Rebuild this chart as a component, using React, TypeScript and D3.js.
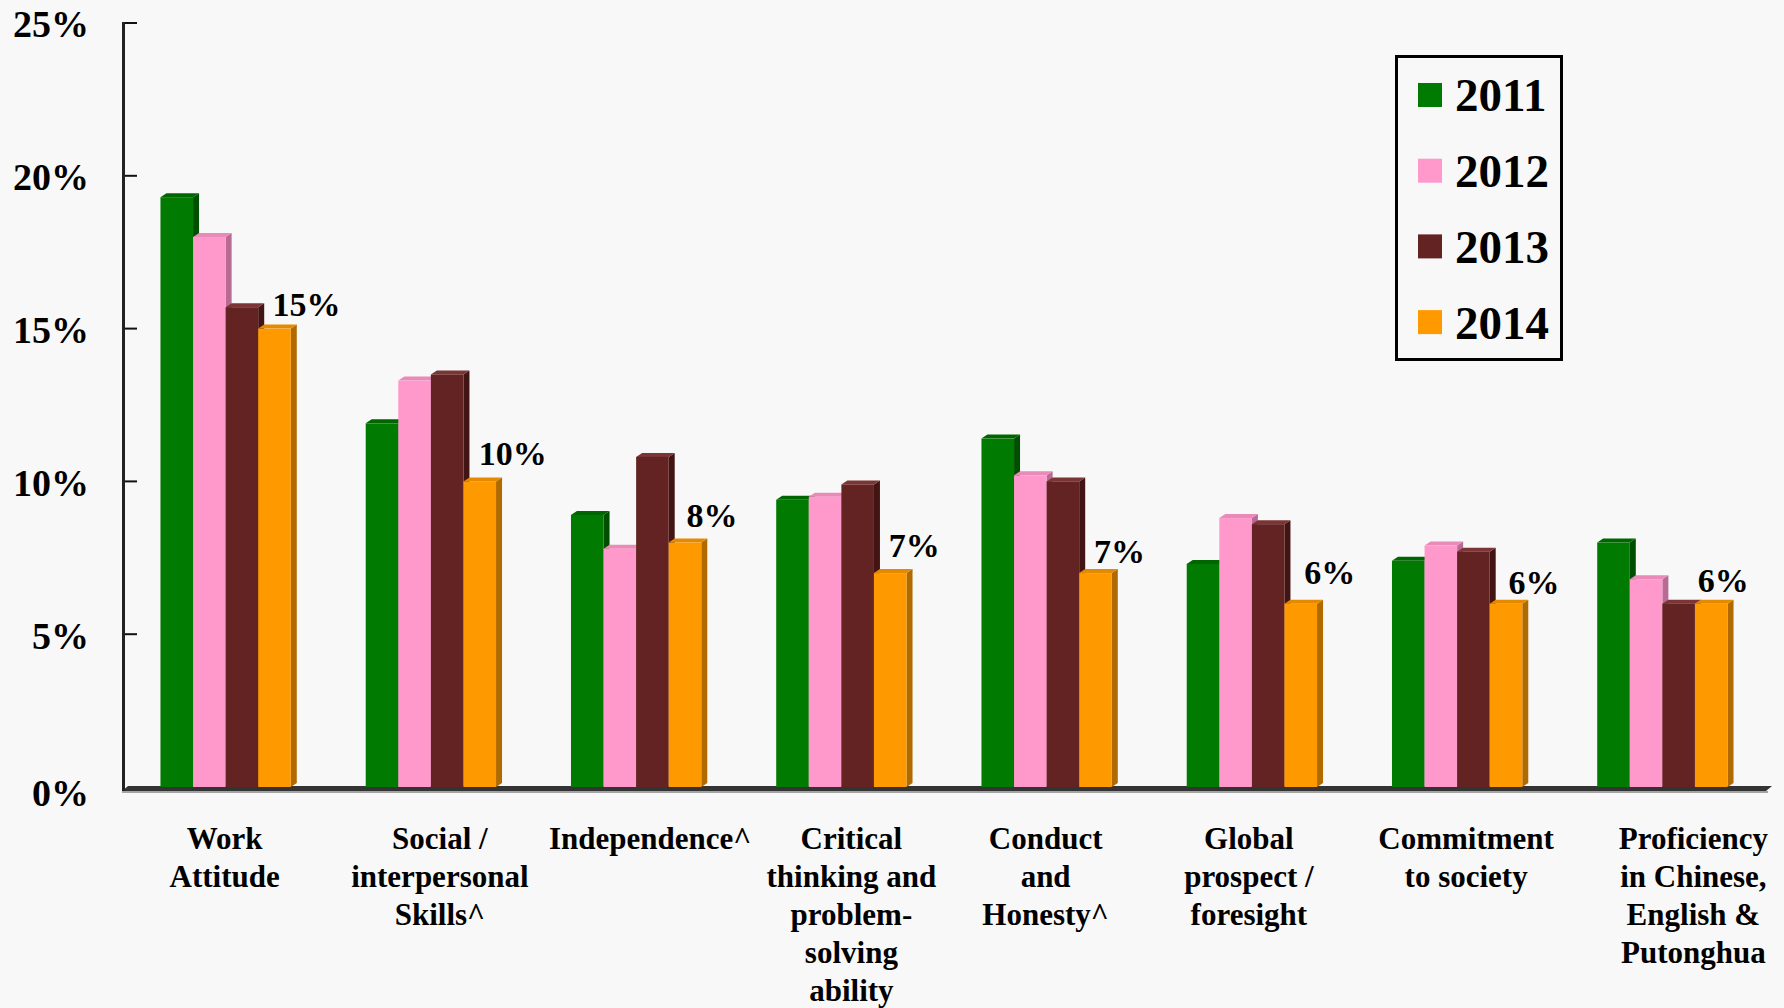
import React from "react";
import * as d3 from "d3";

const CATEGORIES = [
  "Work Attitude",
  "Social / interpersonal Skills^",
  "Independence^",
  "Critical thinking and problem-solving ability",
  "Conduct and Honesty^",
  "Global prospect / foresight",
  "Commitment to society",
  "Proficiency in Chinese, English & Putonghua",
];
const CATEGORY_LINES = [
  ["Work", "Attitude"],
  ["Social /", "interpersonal", "Skills^"],
  ["Independence^"],
  ["Critical", "thinking and", "problem-", "solving", "ability"],
  ["Conduct", "and", "Honesty^"],
  ["Global", "prospect /", "foresight"],
  ["Commitment", "to society"],
  ["Proficiency", "in Chinese,", "English &", "Putonghua"],
];
const YEARS = ["2011", "2012", "2013", "2014"];
const V2011 = [19.3, 11.9, 8.9, 9.4, 11.4, 7.3, 7.4, 8.0];
const V2012 = [18.0, 13.3, 7.8, 9.5, 10.2, 8.8, 7.9, 6.8];
const V2013 = [15.7, 13.5, 10.8, 9.9, 10.0, 8.6, 7.7, 6.0];
const V2014 = [15.0, 10.0, 8.0, 7.0, 7.0, 6.0, 6.0, 6.0];
const SERIES = [V2011, V2012, V2013, V2014];
const LABELS_2014 = ["15%", "10%", "8%", "7%", "7%", "6%", "6%", "6%"];
const Y_TICKS = [0, 5, 10, 15, 20, 25];

// layout nudges (pixels) for the value labels and category labels
const VALUE_LABEL_DX = [32, 33, 27, 24, 24, 29, 28, 12];
const VALUE_LABEL_DY = [13, 16, 16, 16, 10, 20, 10, 12];
const CAT_LABEL_DX = [-1, 9, 14, 10, -1, -3, 9, 31];

const FRONT = ["#007A00", "#FF99CC", "#632322", "#FF9900"];
const SIDE = ["#004F00", "#B86A92", "#431414", "#B06A00"];
const TOP = ["#006600", "#E98AB9", "#7A3534", "#E58A00"];

const W = 1784;
const H = 1008;
const FONT = "Liberation Serif";

export default function App() {
  const x0 = d3.scaleBand<string>().domain(CATEGORIES).range([123, 1765]);
  const x1 = d3
    .scaleBand<string>()
    .domain(YEARS)
    .range([0, x0.bandwidth()])
    .paddingInner(0)
    .paddingOuter(1.15);
  const y = d3.scaleLinear().domain([0, 25]).range([787, 23]);
  const bw = x1.bandwidth();
  const dx = 6;
  const dy = 4;

  return (
    <div>
      <style>{`body{margin:0;background:#F8F8F8} svg text{font-family:"Liberation Serif","Times New Roman",Times,serif;}`}</style>
      <svg width={W} height={H} style={{ display: "block", background: "#F8F8F8" }} fontFamily={FONT}>
        <rect x={0} y={0} width={W} height={H} fill="#F8F8F8" />
        {/* floor */}
        <polygon points={`122,791 1766,791 1772,786 128,786`} fill="#333" />
        <line x1={122} x2={1768} y1={792} y2={792} stroke="#888" strokeWidth={1.5} />
        {/* y axis */}
        <line x1={123.5} x2={123.5} y1={y(25) - 1} y2={791} stroke="#222" strokeWidth={3} />
        {Y_TICKS.map((t) => (
          <g key={t}>
            {t > 0 && (
              <line x1={125} x2={137} y1={y(t)} y2={y(t)} stroke="#111" strokeWidth={2} />
            )}
            <text
              x={89}
              y={y(t) + (t === 0 ? 6 : 1)}
              dy="0.35em"
              textAnchor="end"
              fontSize={38}
              fontWeight="bold"
              fill="#000"
            >
              {t}%
            </text>
          </g>
        ))}
        {/* bars */}
        {CATEGORIES.map((c, ci) => (
          <g key={c}>
            {YEARS.map((yr, si) => {
              const v = SERIES[si][ci];
              const bx = (x0(c) as number) + (x1(yr) as number);
              const ty = y(v);
              const by = y(0);
              return (
                <g key={yr}>
                  <polygon
                    points={`${bx + bw},${by} ${bx + bw},${ty} ${bx + bw + dx},${ty - dy} ${bx + bw + dx},${by - dy}`}
                    fill={SIDE[si]}
                  />
                  <polygon
                    points={`${bx},${ty} ${bx + dx},${ty - dy} ${bx + bw + dx},${ty - dy} ${bx + bw},${ty}`}
                    fill={TOP[si]}
                  />
                  <rect x={bx} y={ty} width={bw} height={by - ty} fill={FRONT[si]} />
                </g>
              );
            })}
            <text
              x={(x0(c) as number) + (x1("2014") as number) + bw / 2 + VALUE_LABEL_DX[ci]}
              y={y(V2014[ci]) - VALUE_LABEL_DY[ci]}
              textAnchor="middle"
              fontSize={34}
              fontWeight="bold"
              fill="#000"
            >
              {LABELS_2014[ci]}
            </text>
            <text
              x={(x0(c) as number) + x0.bandwidth() / 2 + CAT_LABEL_DX[ci]}
              y={849}
              textAnchor="middle"
              fontSize={31}
              fontWeight="bold"
              fill="#000"
            >
              {CATEGORY_LINES[ci].map((ln, li) => (
                <tspan
                  key={li}
                  x={(x0(c) as number) + x0.bandwidth() / 2 + CAT_LABEL_DX[ci]}
                  dy={li === 0 ? 0 : 38}
                >
                  {ln}
                </tspan>
              ))}
            </text>
          </g>
        ))}
        {/* legend */}
        <rect x={1396.5} y={56.5} width={165} height={303} fill="none" stroke="#000" strokeWidth={3} />
        {YEARS.map((yr, i) => {
          const cy = 95 + i * 75.7;
          return (
            <g key={yr}>
              <rect x={1418} y={cy - 12} width={24} height={24} fill={FRONT[i]} />
              <text x={1455} y={cy} dy="0.35em" fontSize={47} fontWeight="bold" fill="#000">
                {yr}
              </text>
            </g>
          );
        })}
      </svg>
    </div>
  );
}
